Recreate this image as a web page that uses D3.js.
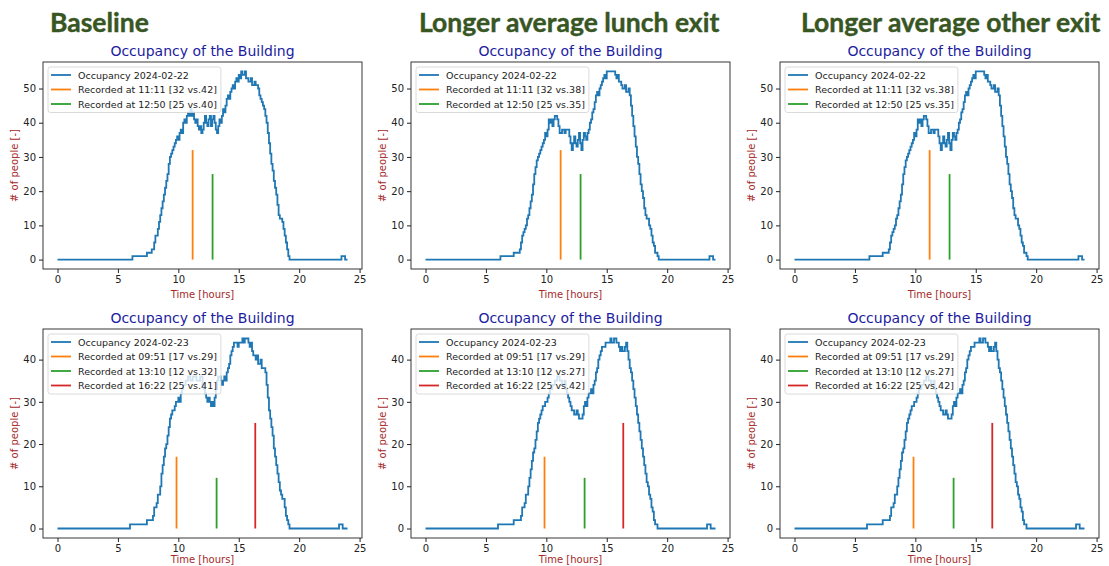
<!DOCTYPE html>
<html>
<head>
<meta charset="utf-8">
<script src="https://cdn.jsdelivr.net/npm/d3@7"></script>
<style>
  body { margin: 0; background: #fff; }
  svg { display: block; }
</style>
</head>
<body>
<div id="chart"></div>
<script>
// column headings
const headings = ["Baseline", "Longer average lunch exit", "Longer average other exit"];

// occupancy 2024-02-22, [hour, people] step points
const occ22Base = [[0,0],[6.2,1],[7.4,2],[7.8,3],[8.0,5],[8.1,7],[8.3,9],[8.4,11],[8.5,13],[8.6,15],[8.7,17],[8.8,19],[8.9,21],[9.0,23],[9.1,25],[9.2,28],[9.3,30],[9.4,31],[9.5,32],[9.6,33],[9.7,34],[9.8,35],[9.9,36],[10.0,35],[10.1,37],[10.2,38],[10.3,37],[10.4,40],[10.5,41],[10.6,40],[10.7,42],[10.8,43],[10.9,42],[11.0,44],[11.1,42],[11.2,43],[11.3,41],[11.4,40],[11.5,41],[11.6,39],[11.7,38],[11.8,39],[11.9,37],[12.0,38],[12.1,40],[12.2,42],[12.3,40],[12.4,39],[12.5,41],[12.6,42],[12.7,39],[12.8,41],[12.9,42],[13.0,40],[13.1,38],[13.2,37],[13.3,39],[13.4,41],[13.5,40],[13.6,42],[13.7,44],[13.8,43],[13.9,45],[14.0,47],[14.1,48],[14.2,47],[14.3,49],[14.4,50],[14.5,51],[14.6,50],[14.7,52],[14.8,53],[14.9,52],[15.0,54],[15.1,53],[15.2,55],[15.3,54],[15.5,55],[15.6,53],[15.8,52],[16.0,53],[16.1,51],[16.3,52],[16.4,51],[16.6,50],[16.7,48],[16.8,47],[16.9,46],[17.0,45],[17.1,44],[17.2,42],[17.3,40],[17.4,37],[17.5,34],[17.6,31],[17.7,28],[17.8,26],[17.9,23],[18.0,21],[18.1,19],[18.2,16],[18.3,13],[18.4,12],[18.6,11],[18.7,9],[18.8,7],[18.9,5],[19.0,3],[19.1,1],[19.2,0],[23.5,1],[23.8,0],[24.0,0]];
// lunch-exit and other-exit runs look the same on 02-22
const occ22Exit = [[0,0],[6.2,1],[7.3,2],[7.8,3],[7.9,5],[8.0,7],[8.1,8],[8.2,9],[8.3,10],[8.4,12],[8.5,13],[8.6,15],[8.7,17],[8.8,19],[8.9,22],[9.0,25],[9.1,27],[9.2,29],[9.3,30],[9.4,31],[9.5,32],[9.6,33],[9.7,34],[9.8,35],[9.9,37],[10.0,36],[10.1,38],[10.2,41],[10.3,40],[10.4,41],[10.5,39],[10.6,41],[10.7,42],[10.9,41],[11.0,39],[11.1,37],[11.3,38],[11.5,37],[11.6,38],[11.9,36],[12.0,34],[12.1,32],[12.2,34],[12.3,36],[12.4,34],[12.5,33],[12.6,35],[12.7,37],[12.8,34],[12.9,32],[13.0,35],[13.1,37],[13.2,36],[13.3,35],[13.4,37],[13.5,38],[13.6,40],[13.7,41],[13.8,43],[13.9,44],[14.0,46],[14.1,48],[14.2,49],[14.3,48],[14.4,50],[14.5,51],[14.6,52],[14.7,53],[14.8,54],[14.9,53],[15.0,55],[15.7,54],[15.8,53],[15.9,54],[16.0,52],[16.2,51],[16.3,50],[16.5,51],[16.6,49],[16.8,50],[16.9,48],[17.0,45],[17.1,42],[17.2,39],[17.3,36],[17.4,33],[17.5,30],[17.6,28],[17.7,25],[17.8,22],[17.9,20],[18.0,18],[18.1,15],[18.2,13],[18.3,12],[18.5,10],[18.6,9],[18.7,7],[18.8,5],[18.9,4],[19.0,2],[19.2,1],[19.3,0],[23.5,1],[23.8,0],[24.0,0]];

// occupancy 2024-02-23
const occ23Base = [[0,0],[6.0,1],[7.4,2],[7.9,3],[8.0,5],[8.2,6],[8.3,8],[8.5,10],[8.6,13],[8.7,15],[8.8,17],[8.9,19],[9.0,20],[9.1,22],[9.2,24],[9.3,26],[9.4,27],[9.5,28],[9.7,29],[9.8,30],[10.0,31],[10.1,30],[10.2,32],[10.3,33],[10.4,34],[10.6,35],[10.8,36],[11.0,35],[11.2,36],[11.5,35],[11.8,36],[12.0,34],[12.1,33],[12.2,32],[12.3,31],[12.4,30],[12.5,31],[12.6,30],[12.7,29],[12.8,30],[12.9,29],[13.0,31],[13.1,33],[13.2,35],[13.3,36],[13.5,35],[13.6,34],[13.7,35],[13.8,36],[13.9,35],[14.0,37],[14.1,38],[14.2,39],[14.3,41],[14.4,42],[14.5,43],[14.6,44],[14.9,43],[15.0,44],[15.3,45],[15.4,44],[15.5,45],[15.8,44],[15.9,43],[16.0,44],[16.1,42],[16.2,41],[16.4,40],[16.5,41],[16.6,39],[16.8,40],[16.9,38],[17.2,37],[17.3,34],[17.4,31],[17.5,28],[17.6,26],[17.7,24],[17.8,22],[17.9,19],[18.0,17],[18.1,15],[18.2,13],[18.3,11],[18.4,9],[18.5,8],[18.6,7],[18.8,5],[18.9,3],[19.0,2],[19.1,1],[19.2,0],[23.3,1],[23.6,0],[24.0,0]];
const occ23Exit = [[0,0],[6.0,1],[7.3,2],[7.9,3],[8.0,5],[8.2,6],[8.3,8],[8.5,10],[8.6,12],[8.7,14],[8.8,16],[8.9,18],[9.0,19],[9.1,21],[9.2,23],[9.3,25],[9.4,26],[9.5,27],[9.6,28],[9.7,29],[9.9,30],[10.1,31],[10.2,32],[10.3,33],[10.5,34],[10.7,35],[10.9,36],[11.1,35],[11.3,34],[11.5,35],[11.6,33],[11.7,32],[11.8,31],[11.9,30],[12.0,29],[12.1,28],[12.3,27],[12.5,28],[12.6,27],[12.7,26],[13.0,27],[13.1,29],[13.2,30],[13.3,29],[13.4,31],[13.5,32],[13.7,33],[13.8,32],[13.9,34],[14.0,35],[14.1,37],[14.2,38],[14.3,40],[14.4,41],[14.5,42],[14.6,43],[14.9,44],[15.3,45],[15.4,44],[15.6,45],[15.8,44],[16.0,43],[16.1,42],[16.2,43],[16.3,42],[16.5,43],[16.6,44],[16.7,42],[16.8,40],[16.9,38],[17.0,37],[17.1,35],[17.2,33],[17.3,31],[17.4,29],[17.5,27],[17.6,25],[17.7,23],[17.8,21],[17.9,19],[18.0,17],[18.1,15],[18.2,13],[18.3,11],[18.4,10],[18.5,8],[18.6,7],[18.7,5],[18.8,4],[18.9,2],[19.0,1],[19.2,0],[23.3,1],[23.6,0],[24.0,0]];

// recorded counts
const rec22Labels = ["11:11", "12:50"];
const rec22Hours = [11 + 11 / 60, 12 + 50 / 60];
const rec22Counts = [32, 25];
const rec22Model = [[42, 40], [38, 35], [38, 35]];

const rec23Labels = ["09:51", "13:10", "16:22"];
const rec23Hours = [9 + 51 / 60, 13 + 10 / 60, 16 + 22 / 60];
const rec23Counts = [17, 12, 25];
const rec23Model = [[29, 32, 41], [29, 27, 42], [29, 27, 42]];

const xTicks = [0, 5, 10, 15, 20, 25];
const yTicks22 = [0, 10, 20, 30, 40, 50];
const yTicks23 = [0, 10, 20, 30, 40];

const recColors = ["#ff7f0e", "#2ca02c", "#d62728"];

const W = 1109, H = 566;
const svg = d3.select("#chart").append("svg").attr("width", W).attr("height", H);

const colLeft = [43, 411, 780];
const panelW = 319;
const rows = [
  { top: 62, h: 207, yMax: 55, ticks: yTicks22, date: "2024-02-22", series: [occ22Base, occ22Exit, occ22Exit],
    labels: rec22Labels, hours: rec22Hours, counts: rec22Counts, model: rec22Model },
  { top: 329, h: 209, yMax: 45, ticks: yTicks23, date: "2024-02-23", series: [occ23Base, occ23Exit, occ23Exit],
    labels: rec23Labels, hours: rec23Hours, counts: rec23Counts, model: rec23Model }
];

const font = "DejaVu Sans, sans-serif";

// headings
headings.forEach((t, i) => {
  svg.append("text")
    .attr("x", [50, 419, 801][i]).attr("y", 32)
    .attr("font-family", "Lato, sans-serif").attr("font-weight", 700)
    .attr("font-size", 26.5).attr("fill", "#375623")
    .attr("stroke", "#375623").attr("stroke-width", 0.4)
    .text(t);
});

rows.forEach(row => {
  colLeft.forEach((left, ci) => {
    const x = d3.scaleLinear().domain([-1.2, 25.2]).range([left, left + panelW]);
    const pad = row.yMax * 0.05;
    const y = d3.scaleLinear().domain([-pad, row.yMax + pad]).range([row.top + row.h, row.top]);
    const g = svg.append("g");

    // occupancy step line
    const line = d3.line().x(d => x(d[0])).y(d => y(d[1])).curve(d3.curveStepAfter);
    g.append("path").datum(row.series[ci])
      .attr("fill", "none").attr("stroke", "#1f77b4").attr("stroke-width", 1.8)
      .attr("d", line);

    // recorded vertical lines
    g.selectAll(".rec").data(row.hours).join("line")
      .attr("x1", d => x(d)).attr("x2", d => x(d))
      .attr("y1", y(0)).attr("y2", (d, i) => y(row.counts[i]))
      .attr("stroke", (d, i) => recColors[i]).attr("stroke-width", 1.8);

    // axes
    const xAxis = d3.axisBottom(x).tickValues(xTicks).tickSize(4).tickPadding(3);
    const ax = g.append("g").attr("transform", `translate(0,${row.top + row.h})`).call(xAxis);
    const yAxis = d3.axisLeft(y).tickValues(row.ticks).tickSize(4).tickPadding(3);
    const ay = g.append("g").attr("transform", `translate(${left},0)`).call(yAxis);
    [ax, ay].forEach(a => {
      a.select(".domain").remove();
      a.selectAll("text").attr("font-family", font).attr("font-size", 10).attr("fill", "#222");
      a.selectAll("line").attr("stroke", "#222");
    });

    g.append("rect")
      .attr("x", left).attr("y", row.top).attr("width", panelW).attr("height", row.h)
      .attr("fill", "none").attr("stroke", "#222").attr("stroke-width", 0.9);

    // titles and labels
    g.append("text")
      .attr("x", left + panelW / 2).attr("y", row.top - 6)
      .attr("text-anchor", "middle").attr("font-family", font).attr("font-size", 14)
      .attr("fill", "#1c1ca0").text("Occupancy of the Building");
    g.append("text")
      .attr("x", left + panelW / 2).attr("y", Math.min(row.top + row.h + 29, H - 3))
      .attr("text-anchor", "middle").attr("font-family", font).attr("font-size", 10)
      .attr("fill", "#a52a2a").text("Time [hours]");
    g.append("text")
      .attr("transform", `translate(${left - 25},${row.top + row.h / 2}) rotate(-90)`)
      .attr("text-anchor", "middle").attr("font-family", font).attr("font-size", 10)
      .attr("fill", "#a52a2a").text("# of people [-]");

    // legend
    const entries = [{ c: "#1f77b4", t: `Occupancy ${row.date}` }].concat(
      row.labels.map((l, i) => ({ c: recColors[i], t: `Recorded at ${l} [${row.counts[i]} vs.${row.model[ci][i]}]` }))
    );
    const lg = g.append("g").attr("transform", `translate(${left + 5},${row.top + 5})`);
    const box = lg.append("rect").attr("rx", 2.5)
      .attr("fill", "#fff").attr("fill-opacity", 0.8)
      .attr("stroke", "#d0d0d0").attr("stroke-width", 0.8);
    let maxW = 0;
    entries.forEach((e, i) => {
      const cy = 8 + i * 14.5;
      lg.append("line").attr("x1", 3).attr("x2", 23).attr("y1", cy).attr("y2", cy)
        .attr("stroke", e.c).attr("stroke-width", 1.8);
      const t = lg.append("text").attr("x", 30).attr("y", cy + 3.5)
        .attr("font-family", font).attr("font-size", 9.5).attr("fill", "#222").text(e.t);
      maxW = Math.max(maxW, t.node().getComputedTextLength());
    });
    box.attr("x", 0).attr("y", 0).attr("width", 30 + maxW + 4).attr("height", entries.length * 14.5 + 2);
  });
});
</script>
</body>
</html>
